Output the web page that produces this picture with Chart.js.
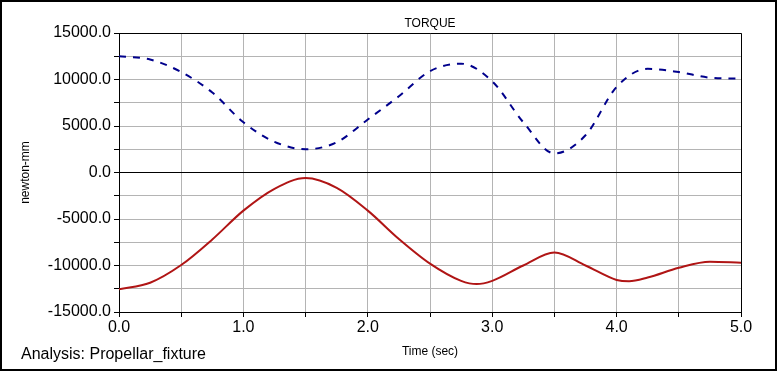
<!DOCTYPE html>
<html>
<head>
<meta charset="utf-8">
<script src="https://cdn.jsdelivr.net/npm/chart.js@4/dist/chart.umd.min.js"></script>
<style>
  html, body { margin: 0; padding: 0; background: #ffffff; }
  #wrap { width: 784px; height: 375px; position: relative; }
</style>
</head>
<body>
<div id="wrap"><canvas id="c" width="784" height="375"></canvas></div>
<script>
// ---- data ----
const chartTitle = "TORQUE";
const xAxisTitle = "Time (sec)";
const yAxisTitle = "newton-mm";
const footerText = "Analysis: Propellar_fixture";

const timeBlue = [0, 0.25, 0.5, 0.75, 1.0, 1.25, 1.5, 1.75, 2.0, 2.25, 2.5, 2.75, 3.0, 3.25, 3.5, 3.75, 4.0, 4.25, 4.5, 4.75, 5.0];
const torqueBlue = [12500, 12150, 10800, 8600, 5400, 3300, 2500, 3250, 5700, 8200, 10900, 11700, 9800, 5400, 2050, 4000, 9200, 11150, 10800, 10200, 10100];

const timeRed = [0, 0.25, 0.5, 0.75, 1.0, 1.25, 1.5, 1.75, 2.0, 2.25, 2.5, 2.75, 2.875, 3.0, 3.25, 3.5, 3.75, 4.0, 4.1, 4.25, 4.5, 4.75, 5.0];
const torqueRed = [-12550, -11850, -9950, -7200, -4100, -1750, -600, -1650, -4100, -7150, -9800, -11650, -12000, -11650, -10000, -8600, -10000, -11550, -11700, -11300, -10250, -9600, -9700];

const xMin = 0, xMax = 5, xStep = 0.5;
const yMin = -15000, yMax = 15000, yStep = 2500;

// ---- build ----
function pairs(xs, ys) { return xs.map((x, i) => ({ x: x, y: ys[i] })); }

const fontFamily = "Arial, 'Liberation Sans', sans-serif";

const framePlugin = {
  id: 'frame',
  afterDraw(chart) {
    const ctx = chart.ctx;
    const a = chart.chartArea;
    ctx.save();
    // plot border
    ctx.strokeStyle = '#000000';
    ctx.lineWidth = 1;
    ctx.beginPath();
    ctx.moveTo(a.left, a.top + 0.5);
    ctx.lineTo(a.right + 0.5, a.top + 0.5);
    ctx.lineTo(a.right + 0.5, a.bottom);
    ctx.stroke();
    // outer border
    ctx.lineWidth = 2;
    ctx.strokeRect(1, 1, 775, 369);
    // title
    ctx.fillStyle = '#000000';
    ctx.font = "12px " + fontFamily;
    ctx.textAlign = 'center';
    ctx.textBaseline = 'alphabetic';
    ctx.fillText(chartTitle, (a.left + a.right) / 2, 27);
    // footer
    ctx.font = "16px " + fontFamily;
    ctx.textAlign = 'left';
    ctx.fillText(footerText, 21, 359);
    ctx.restore();
  }
};

new Chart(document.getElementById('c'), {
  type: 'line',
  data: {
    datasets: [
      {
        label: 'torque 1',
        data: pairs(timeBlue, torqueBlue),
        borderColor: '#00008c',
        borderWidth: 2,
        borderDash: [7, 7],
        pointRadius: 0,
        cubicInterpolationMode: 'monotone',
        fill: false
      },
      {
        label: 'torque 2',
        data: pairs(timeRed, torqueRed),
        borderColor: '#b01515',
        borderWidth: 2,
        pointRadius: 0,
        cubicInterpolationMode: 'monotone',
        fill: false
      }
    ]
  },
  options: {
    responsive: false,
    animation: false,
    devicePixelRatio: 1,
    layout: { padding: { left: 0, right: 43, top: 33, bottom: 0 } },
    plugins: {
      legend: { display: false },
      title: { display: false },
      tooltip: { enabled: false }
    },
    scales: {
      x: {
        type: 'linear',
        min: xMin, max: xMax,
        afterFit(scale) { scale.height = 63; },
        border: { display: true, color: '#000000', width: 1 },
        grid: {
          color: '#b4b4b4',
          lineWidth: 1,
          drawTicks: true,
          tickLength: 5,
          tickColor: '#000000'
        },
        ticks: {
          stepSize: xStep,
          autoSkip: false,
          maxRotation: 0,
          padding: 1,
          color: '#000000',
          font: { family: fontFamily, size: 16 },
          callback: (v) => (Math.abs(v - Math.round(v)) < 1e-9 ? Number(v).toFixed(1) : '')
        },
        title: {
          display: true,
          text: xAxisTitle,
          color: '#000000',
          font: { family: fontFamily, size: 12 },
          padding: { top: 0, bottom: 16 }
        }
      },
      y: {
        type: 'linear',
        min: yMin, max: yMax,
        afterFit(scale) { scale.width = 119; },
        border: { display: true, color: '#000000', width: 1 },
        grid: {
          color: (ctx) => (ctx.tick && ctx.tick.value === 0 ? '#000000' : '#b4b4b4'),
          lineWidth: 1,
          drawTicks: true,
          tickLength: 5,
          tickColor: '#000000'
        },
        ticks: {
          stepSize: yStep,
          autoSkip: false,
          padding: 3,
          color: '#000000',
          font: { family: fontFamily, size: 16 },
          callback: (v) => (v % 5000 === 0 ? Number(v).toFixed(1) : '')
        },
        title: {
          display: true,
          text: yAxisTitle,
          color: '#000000',
          font: { family: fontFamily, size: 12 },
          padding: { top: 18, bottom: 0 }
        }
      }
    }
  },
  plugins: [framePlugin]
});
</script>
</body>
</html>
